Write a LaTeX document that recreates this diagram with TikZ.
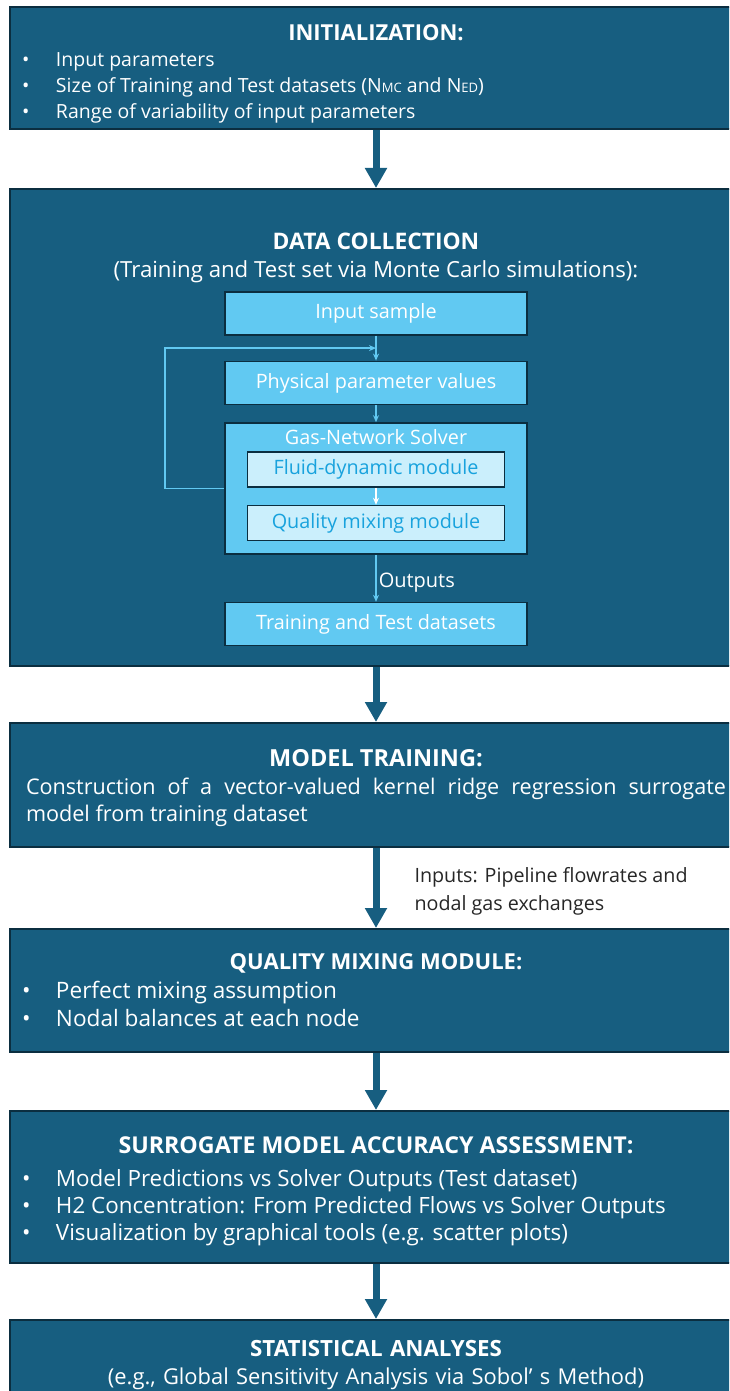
\documentclass[tikz,border=0pt]{standalone}
\usepackage{fontspec}
\setmainfont{Open Sans}
\usetikzlibrary{arrows.meta,positioning}
\definecolor{stage}{HTML}{175E80}
\definecolor{edge}{HTML}{0B2E40}
\definecolor{sky}{HTML}{61C9F2}
\definecolor{pale}{HTML}{CBEFFC}
\definecolor{ink}{HTML}{18A2DD}
\newcommand{\fsz}[2]{\fontsize{#1}{#2}\selectfont}
\newcommand{\bitem}[1]{\makebox[34pt][l]{\textbullet}#1\par}
% heading: size, text, strut height above it
\newcommand{\heading}[3]{{\centering\bfseries\fsz{#1}{26}\rule{0pt}{#3}#2\par}}

\begin{document}
\begin{tikzpicture}[
  x=1pt, y=-1pt,
  stage/.style={draw=edge, line width=2pt, fill=stage, text=white, minimum width=732pt, text width=708pt, inner xsep=12pt, inner ysep=0pt, align=justify, execute at begin node=\parindent0pt},
  part/.style={draw=edge, line width=1.6pt, fill=sky, text=white, minimum width=302pt, minimum height=43pt, inner sep=0pt, font=\fsz{19.8}{24}},
  module/.style={draw=edge, line width=1.6pt, fill=pale, text=ink, minimum width=257pt, minimum height=35pt, inner sep=0pt, font=\fsz{19.8}{24}},
  flow/.style={-{Triangle[length=20pt,width=21pt]}, line width=7pt, draw=stage},
  link/.style={-{Stealth[length=7pt,width=6pt]}, line width=1.5pt, color=sky},
  note/.style={font=\fsz{19.7}{28}, align=left, inner sep=0pt, text=black!85}
]
  \useasboundingbox (0,0) rectangle (729,1391);
  \clip (0,0) rectangle (729,1391);

  % stages of the workflow
  \node[stage, minimum height=122pt, anchor=north, font=\fsz{19.5}{26}] (init) at (376,6) {%
    \heading{22}{INITIALIZATION:}{27pt}
    \bitem{Input parameters}
    \bitem{Size of Training and Test datasets (N{\fsz{13}{13}MC} and N{\fsz{13}{13}ED})}
    \bitem{Range of variability of input parameters}};
  \node[stage, minimum height=477pt, below=58pt of init] (collect) {};
  \node[stage, minimum height=124pt, below=55pt of collect, inner xsep=16pt, text width=700pt, font=\fsz{21.6}{26.5}] (train) {%
    \heading{23.5}{MODEL TRAINING:}{23pt}
    \vspace{2pt}
    Construction of a vector-valued kernel ridge regression surrogate\linebreak model from training dataset};
  \node[stage, minimum height=123pt, below=80pt of train, font=\fsz{22.6}{28.5}] (mixing) {%
    \heading{22}{QUALITY MIXING MODULE:}{0pt}
    \bitem{Perfect mixing assumption}
    \bitem{Nodal balances at each node}};
  \node[stage, minimum height=152pt, below=57pt of mixing, font=\fsz{22.4}{27}] (assess) {%
    \heading{23.2}{SURROGATE MODEL ACCURACY ASSESSMENT:}{26pt}
    \vspace{6pt}
    \bitem{Model Predictions vs Solver Outputs (Test dataset)}
    \bitem{H2 Concentration: From Predicted Flows vs Solver Outputs}
    \bitem{Visualization by graphical tools (e.g. scatter plots)}};
  \node[stage, minimum height=91pt, below=55pt of assess, font=\fsz{21.9}{28}, align=center] (stats) {%
    {\bfseries\fsz{22.3}{28}STATISTICAL ANALYSES}\\(e.g., Global Sensitivity Analysis via Sobol’ s Method)};

  % inside the data collection stage
  \node[text=white, align=center, inner sep=0pt, font=\fsz{22.2}{28}, below=45pt of collect.north] (dctitle) {%
    {\bfseries\fsz{22.8}{28}DATA COLLECTION}\\(Training and Test set via Monte Carlo simulations):};
  \node[part, below=103pt of collect.north] (input) {Input sample};
  \node[part, below=25pt of input] (phys) {Physical parameter values};
  \node[part, minimum height=131pt, below=17pt of phys] (solver) {};
  \node[font=\fsz{19.8}{24}, text=white, inner sep=0pt, below=7pt of solver.north] (solverlabel) {Gas-Network Solver};
  \node[module, below=29pt of solver.north] (fluid) {Fluid-dynamic module};
  \node[module, below=17pt of fluid] (quality) {Quality mixing module};
  \node[part, below=47pt of solver] (datasets) {Training and Test datasets};

  % connectors
  \draw[flow] (init) -- (collect);
  \draw[flow] (collect) -- (train);
  \draw[flow] (train) -- node[note, anchor=west, xshift=35pt, yshift=-3pt] {Inputs: Pipeline flowrates and\\nodal gas exchanges} (mixing);
  \draw[flow] (mixing) -- (assess);
  \draw[flow] (assess) -- (stats);
  \draw[link] (input) -- coordinate[midway] (merge) (phys);
  \draw[link] (phys) -- (solver);
  \draw[link, white] (fluid) -- (quality);
  \draw[link] (solver) -- node[right, inner sep=2pt, yshift=-4pt, font=\fsz{20}{24}, text=white] {Outputs} (datasets);
  \draw[link] (solver.west) -- ++(-59pt,0) |- (merge);
\end{tikzpicture}
\end{document}
